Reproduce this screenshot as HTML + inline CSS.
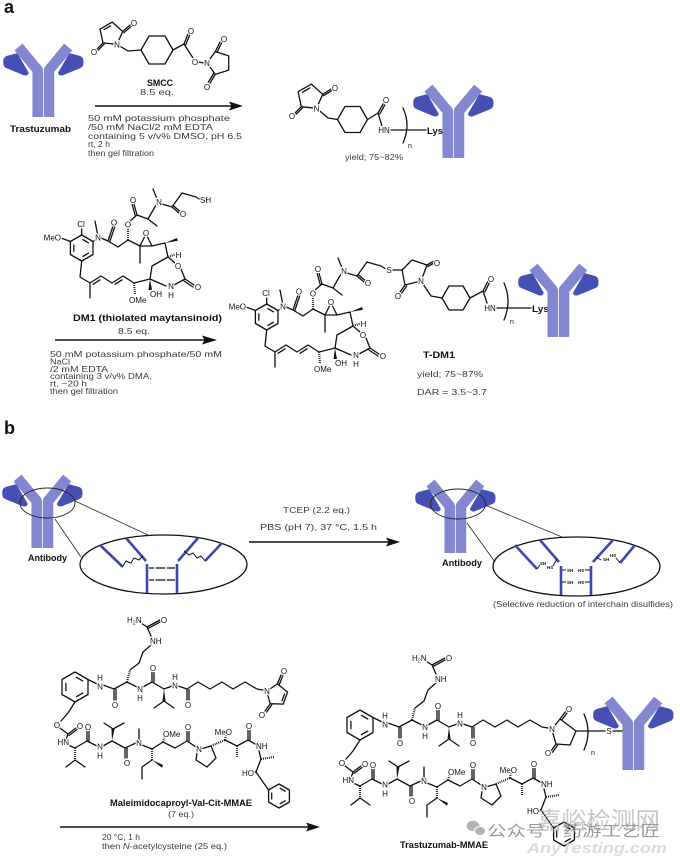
<!DOCTYPE html>
<html><head><meta charset="utf-8">
<style>
html,body{margin:0;padding:0;background:#fff;}
svg{display:block}
text{font-family:"Liberation Sans","Noto Sans CJK SC",sans-serif;}
.bd{fill:none;stroke:#111;stroke-width:1.3;stroke-linecap:round;stroke-linejoin:round}
.hs{fill:none;stroke:#111;stroke-width:2.2;stroke-dasharray:0.9 1.1}
.at{font-size:8px;fill:#111;text-anchor:middle;paint-order:stroke;stroke:#fff;stroke-width:2.4px;stroke-linejoin:round}
.as{text-anchor:start}
.ae{text-anchor:end}
.cd{font-size:8.5px;fill:#3a3a3a}
.lb{font-size:9px;font-weight:bold;fill:#111}
.hc{fill:none;stroke:#8387d0;stroke-width:10.5;stroke-linejoin:round;stroke-linecap:butt}
.lc{fill:#4650b4;stroke:#4650b4;stroke-width:1.5;stroke-linejoin:round}
.bl{fill:none;stroke:#3b48b0;stroke-width:2.6}
.ar{stroke:#111;stroke-width:1.5;fill:none}
</style></head><body>
<svg width="680" height="861" viewBox="0 0 680 861" xmlns="http://www.w3.org/2000/svg">
<rect width="680" height="861" fill="#fff"/>

<!-- ===== Section a ===== -->
<text x="4" y="13" font-size="18" font-weight="bold" fill="#111">a</text>

<!-- Antibody 1 -->
<g transform="translate(3,42)">
<path class="lc" d="M1,19 Q1,15.5 4.5,14.5 L14,12 L25,31 Q24,33.5 21,32.5 L4,25.5 Q1,24.5 1,21 Z"/>
<path class="lc" d="M79.7,19 Q79.7,15.5 76.2,14.5 L66.7,12 L55.7,31 Q56.7,33.5 59.7,32.5 L76.7,25.5 Q79.7,24.5 79.7,21 Z"/>
<path class="hc" d="M15.5,5 L34.7,28 L34.7,75"/><path class="hc" d="M65.2,5 L46,28 L46,75"/>
</g>
<text class="lb" x="10" y="132" textLength="61" lengthAdjust="spacingAndGlyphs">Trastuzumab</text>

<!-- SMCC -->
<g class="bd">
<polygon points="117,44.4 103,42.9 100,29.1 112.3,22.1 122.7,31.5"/>
<path d="M104,29.6L110.6,25.9 M122.7,31.5L130,25 M123.8,32.8L131.1,26.3 M103,42.9L97,49 M104.2,44.1L98.2,50.2 M117,44.4L128,51L141,50"/>
<polygon points="141,50 149,36 165,36 173,50 165,64 149,64"/>
<path d="M173,50L184,44 M184,44L188,34 M185.8,44.7L189.8,34.7 M184,44L193,58 M198,62L204,63"/>
<polygon points="207,63 215.3,51.6 228.7,55.9 228.7,70.1 215.3,74.4"/>
<path d="M215.3,51.6L220,42 M217,52.4L221.7,42.8 M215.3,74.4L210,83 M213.6,73.5L208.3,82.1"/>
</g>
<text class="at" x="117" y="47.4">N</text>
<text class="at" x="134" y="26">O</text>
<text class="at" x="94" y="55">O</text>
<text class="at" x="191" y="34">O</text>
<text class="at" x="195" y="65">O</text>
<text class="at" x="207" y="66">N</text>
<text class="at" x="224" y="42">O</text>
<text class="at" x="207" y="90">O</text>
<text class="lb" x="147" y="86" textLength="26" lengthAdjust="spacingAndGlyphs">SMCC</text>
<text class="cd" x="140" y="95" textLength="34" lengthAdjust="spacingAndGlyphs">8.5 eq.</text>

<!-- Arrow 1 -->
<line class="ar" x1="95" y1="106" x2="233" y2="106"/>
<polygon points="243,106 229,101.5 231.5,106 229,110.5" fill="#111"/>
<text class="cd" x="88" y="121" textLength="142" lengthAdjust="spacingAndGlyphs">50 mM potassium phosphate</text>
<text class="cd" x="88" y="130" textLength="125" lengthAdjust="spacingAndGlyphs">/50 mM NaCl/2 mM EDTA</text>
<text class="cd" x="88" y="139" textLength="154" lengthAdjust="spacingAndGlyphs">containing 5 v/v% DMSO, pH 6.5</text>
<text class="cd" x="88" y="147" textLength="22" lengthAdjust="spacingAndGlyphs">rt, 2 h</text>
<text class="cd" x="88" y="156" textLength="66" lengthAdjust="spacingAndGlyphs">then gel filtration</text>

<!-- Product 1 -->
<g class="bd">
<polygon points="316.5,108.3 301.3,106.7 298.1,91.7 311.4,84.1 322.7,94.3"/>
<path d="M302.5,92.2L309.8,88 M322.7,94.3L331,89 M323.6,95.7L331.9,90.4 M301.3,106.7L295,113 M302.5,107.9L296.2,114.2 M316.5,108.3L328,118L337.5,119.5"/>
<polygon points="337.5,119.5 345,106.5 360,106.5 367.5,119.5 360,132.5 345,132.5"/>
<path d="M367.5,119.5L378,113 M378,113L383,104 M379.8,113.9L384.8,104.9 M378,113L382,126 M391,130L426,130"/>
<path d="M403,108 Q411,125 403,143"/>
</g>
<text class="at" x="316.5" y="111.3">N</text>
<text class="at" x="335" y="91">O</text>
<text class="at" x="292" y="119">O</text>
<text class="at" x="386" y="103">O</text>
<text class="at" x="384" y="133">HN</text>
<text x="408" y="148" font-size="7" fill="#111">n</text>
<text class="lb" x="427" y="134" textLength="16" lengthAdjust="spacingAndGlyphs">Lys</text>
<text class="cd" x="345" y="160" textLength="58" lengthAdjust="spacingAndGlyphs">yield; 75~82%</text>
<g transform="translate(413,83)">
<path class="lc" d="M1,19 Q1,15.5 4.5,14.5 L14,12 L25,31 Q24,33.5 21,32.5 L4,25.5 Q1,24.5 1,21 Z"/>
<path class="lc" d="M79.7,19 Q79.7,15.5 76.2,14.5 L66.7,12 L55.7,31 Q56.7,33.5 59.7,32.5 L76.7,25.5 Q79.7,24.5 79.7,21 Z"/>
<path class="hc" d="M15.5,5 L34.7,28 L34.7,75"/><path class="hc" d="M65.2,5 L46,28 L46,75"/>
</g>

<!-- DM1 -->
<g>
<g class="bd">
<polygon points="81.7,235 93,241.5 93,254.5 81.7,261 70.4,254.5 70.4,241.5"/>
<polygon points="81.7,238.9 89.6,243.45 89.6,252.55 81.7,257.1 73.8,252.55 73.8,243.45" stroke-dasharray="6.37 11.83" stroke-dashoffset="16.84"/>
<path d="M81.7,235V229 M70.4,241.5L61,238 M93,241.5L97,239 M97.5,234L95,221 M101,238L108,241 M108,241L113,226 M109.8,241.6L114.8,226.6 M108,241L118,247L128,240 M130,221L137,215 M137,215L134,204 M135.2,215.5L132.2,204.5 M137,215L148,219L157,226 M148,219L156,205 M157,199L153,189 M162,204L172,207 M172,207L179,213 M173.2,205.6L180.2,211.6 M172,207L182,193L196,197 M128,240L140,246L152,246 M140,246L145,236 M152,246L147,236 M140,246V263 M152,246L165,243 M165,243L168,257 M168,257L175,263 M181,269L185,279 M185,279L194,285 M184,281L193,287 M185,279L174,285 M166,286L150,279 M150,279L152,266L168,257 M81.7,261L80,277L90,283L101,276L112,283L123,276L134,283L150,279 M90,283V298 M93,284.3L100,279.8 M115,284.3L122,279.8"/>
</g>
<path class="hs" d="M128,240V229 M134,283L135,294 M168,257L175,254.5"/>
<polygon points="165,243 177,238 177.8,240.8" fill="#111"/>
<polygon points="150,279 148.5,290 152,290" fill="#111"/>
<text class="at" x="81" y="227">Cl</text>
<text class="at ae" x="61" y="240.5">MeO</text>
<text class="at" x="98" y="240.5">N</text>
<text class="at" x="114" y="225.5">O</text>
<text class="at" x="128" y="227.5">O</text>
<text class="at" x="133" y="203">O</text>
<text class="at" x="159" y="205">N</text>
<text class="at" x="183" y="217">O</text>
<text class="at" x="146" y="236">O</text>
<text class="at" x="178.5" y="258">H</text>
<text class="at" x="178" y="269">O</text>
<text class="at" x="198" y="290">O</text>
<text class="at" x="171" y="289">N</text>
<text class="at" x="171" y="298">H</text>
<text class="at as" x="129" y="303">OMe</text>
<text class="at as" x="150" y="297">OH</text>
</g>
<g class="bd"><path d="M196,197L200,199.5"/></g>
<text class="at as" x="200" y="203">SH</text>

<text class="lb" x="73" y="321" textLength="149" lengthAdjust="spacingAndGlyphs">DM1 (thiolated maytansinoid)</text>
<text class="cd" x="118" y="334" textLength="32" lengthAdjust="spacingAndGlyphs">8.5 eq.</text>
<line class="ar" x1="55" y1="340" x2="205" y2="340"/>
<polygon points="217,340 202,335.5 204.5,340 202,344.5" fill="#111"/>
<text class="cd" x="50" y="357" textLength="172" lengthAdjust="spacingAndGlyphs">50 mM potassium phosphate/50 mM</text>
<text class="cd" x="50" y="364.4" textLength="20" lengthAdjust="spacingAndGlyphs">NaCl</text>
<text class="cd" x="50" y="371.8" textLength="58" lengthAdjust="spacingAndGlyphs">/2 mM EDTA</text>
<text class="cd" x="50" y="379.2" textLength="102" lengthAdjust="spacingAndGlyphs">containing 3 v/v% DMA,</text>
<text class="cd" x="50" y="386.6" textLength="37" lengthAdjust="spacingAndGlyphs">rt, ~20 h</text>
<text class="cd" x="50" y="394" textLength="68" lengthAdjust="spacingAndGlyphs">then gel filtration</text>

<!-- T-DM1 -->
<g transform="translate(185,69)">
<g class="bd">
<polygon points="81.7,235 93,241.5 93,254.5 81.7,261 70.4,254.5 70.4,241.5"/>
<polygon points="81.7,238.9 89.6,243.45 89.6,252.55 81.7,257.1 73.8,252.55 73.8,243.45" stroke-dasharray="6.37 11.83" stroke-dashoffset="16.84"/>
<path d="M81.7,235V229 M70.4,241.5L61,238 M93,241.5L97,239 M97.5,234L95,221 M101,238L108,241 M108,241L113,226 M109.8,241.6L114.8,226.6 M108,241L118,247L128,240 M130,221L137,215 M137,215L134,204 M135.2,215.5L132.2,204.5 M137,215L148,219L157,226 M148,219L156,205 M157,199L153,189 M162,204L172,207 M172,207L179,213 M173.2,205.6L180.2,211.6 M172,207L182,193L196,197 M128,240L140,246L152,246 M140,246L145,236 M152,246L147,236 M140,246V263 M152,246L165,243 M165,243L168,257 M168,257L175,263 M181,269L185,279 M185,279L194,285 M184,281L193,287 M185,279L174,285 M166,286L150,279 M150,279L152,266L168,257 M81.7,261L80,277L90,283L101,276L112,283L123,276L134,283L150,279 M90,283V298 M93,284.3L100,279.8 M115,284.3L122,279.8"/>
</g>
<path class="hs" d="M128,240V229 M134,283L135,294 M168,257L175,254.5"/>
<polygon points="165,243 177,238 177.8,240.8" fill="#111"/>
<polygon points="150,279 148.5,290 152,290" fill="#111"/>
<text class="at" x="81" y="227">Cl</text>
<text class="at ae" x="61" y="240.5">MeO</text>
<text class="at" x="98" y="240.5">N</text>
<text class="at" x="114" y="225.5">O</text>
<text class="at" x="128" y="227.5">O</text>
<text class="at" x="133" y="203">O</text>
<text class="at" x="159" y="205">N</text>
<text class="at" x="183" y="217">O</text>
<text class="at" x="146" y="236">O</text>
<text class="at" x="178.5" y="258">H</text>
<text class="at" x="178" y="269">O</text>
<text class="at" x="198" y="290">O</text>
<text class="at" x="171" y="289">N</text>
<text class="at" x="171" y="298">H</text>
<text class="at as" x="129" y="303">OMe</text>
<text class="at as" x="150" y="297">OH</text>
</g>
<g class="bd">
<path d="M381,266L385,268.5 M393,270L402,270"/>
<polygon points="402,270 412,260 427,265 421,281 405,285"/>
<path d="M427,265L434,261 M427.8,266.6L434.8,262.6 M405,285L400,292 M406.6,286.2L401.6,293.2 M421,281L431,296L442,298"/>
<polygon points="442,298 449,286 463,286 470,298 463,310 449,310"/>
<path d="M470,298L483,291 M483,291L488,281 M484.8,291.9L489.8,281.9 M483,291L487,303 M497,308L531,308"/>
<path d="M504,283 Q512,301 504,320"/>
</g>
<text class="at" x="389" y="273">S</text>
<text class="at" x="437" y="266">O</text>
<text class="at" x="398" y="299">O</text>
<text class="at" x="421" y="284">N</text>
<text class="at" x="491" y="282">O</text>
<text class="at" x="490" y="311">HN</text>
<text x="510" y="324" font-size="7" fill="#111">n</text>
<text class="lb" x="532" y="312" textLength="17" lengthAdjust="spacingAndGlyphs">Lys</text>
<g transform="translate(518,262)">
<path class="lc" d="M1,19 Q1,15.5 4.5,14.5 L14,12 L25,31 Q24,33.5 21,32.5 L4,25.5 Q1,24.5 1,21 Z"/>
<path class="lc" d="M79.7,19 Q79.7,15.5 76.2,14.5 L66.7,12 L55.7,31 Q56.7,33.5 59.7,32.5 L76.7,25.5 Q79.7,24.5 79.7,21 Z"/>
<path class="hc" d="M15.5,5 L34.7,28 L34.7,75"/><path class="hc" d="M65.2,5 L46,28 L46,75"/>
</g>
<text class="lb" x="423" y="358" textLength="32" lengthAdjust="spacingAndGlyphs">T-DM1</text>
<text class="cd" x="417" y="377" font-size="9" textLength="66" lengthAdjust="spacingAndGlyphs">yield; 75~87%</text>
<text class="cd" x="417" y="395" font-size="9" textLength="70" lengthAdjust="spacingAndGlyphs">DAR = 3.5~3.7</text>

<!-- ===== Section b ===== -->
<text x="4" y="434" font-size="18" font-weight="bold" fill="#111">b</text>

<g transform="translate(2,473)">
<path class="lc" d="M1,19 Q1,15.5 4.5,14.5 L14,12 L25,31 Q24,33.5 21,32.5 L4,25.5 Q1,24.5 1,21 Z"/>
<path class="lc" d="M79.7,19 Q79.7,15.5 76.2,14.5 L66.7,12 L55.7,31 Q56.7,33.5 59.7,32.5 L76.7,25.5 Q79.7,24.5 79.7,21 Z"/>
<path class="hc" d="M15.5,5 L34.7,28 L34.7,75"/><path class="hc" d="M65.2,5 L46,28 L46,75"/>
</g>
<ellipse cx="47.5" cy="503" rx="27.5" ry="15" fill="none" stroke="#222" stroke-width="0.9"/>
<path d="M75,501L148,535 M55,519L81,557" stroke="#333" stroke-width="0.9" fill="none"/>
<ellipse cx="163.5" cy="564.5" rx="83.5" ry="29.5" fill="none" stroke="#111" stroke-width="1.3"/>
<path class="bl" d="M100,545L123,567 M126,538L146,561 M147,564V593 M198,538L178,561 M177,564V593 M222,543L205,561"/>
<path d="M123,566L126,561L131,563L134,558L139,560L143,556 M205,561L201,556L197,558L193,553L189,555L184,551" stroke="#111" stroke-width="1" fill="none"/>
<path d="M149,568H175 M149,580H175" stroke="#111" stroke-width="1.3" stroke-dasharray="5 1.5 10 1.5 8" fill="none"/>
<text class="lb" x="28" y="561" font-size="8.5" textLength="39" lengthAdjust="spacingAndGlyphs">Antibody</text>

<text class="cd" x="283" y="513" font-size="9" textLength="67" lengthAdjust="spacingAndGlyphs">TCEP (2.2 eq.)</text>
<text class="cd" x="260" y="530" font-size="9" textLength="117" lengthAdjust="spacingAndGlyphs">PBS (pH 7), 37 °C, 1.5 h</text>
<line class="ar" x1="249" y1="542" x2="389" y2="542"/>
<polygon points="400,542 386,537.5 388.5,542 386,546.5" fill="#111"/>

<g transform="translate(415,478)">
<path class="lc" d="M1,19 Q1,15.5 4.5,14.5 L14,12 L25,31 Q24,33.5 21,32.5 L4,25.5 Q1,24.5 1,21 Z"/>
<path class="lc" d="M79.7,19 Q79.7,15.5 76.2,14.5 L66.7,12 L55.7,31 Q56.7,33.5 59.7,32.5 L76.7,25.5 Q79.7,24.5 79.7,21 Z"/>
<path class="hc" d="M15.5,5 L34.7,28 L34.7,75"/><path class="hc" d="M65.2,5 L46,28 L46,75"/>
</g>
<ellipse cx="458" cy="504" rx="27.5" ry="15" fill="none" stroke="#222" stroke-width="0.9"/>
<path d="M485,505L562,537 M467,523L495,562" stroke="#333" stroke-width="0.9" fill="none"/>
<ellipse cx="576.5" cy="566.5" rx="83.5" ry="29.5" fill="none" stroke="#111" stroke-width="1.3"/>
<path class="bl" d="M515,545L537,569 M540,540L559,562 M561,566V595 M613,540L593,562 M591,566V595 M635,545L620,563"/>
<path d="M537,569L540,565 M553,566L557,559 M562,570H566 M585,570H590 M562,582H566 M585,582H590 M620,563L616,558 M601,560L596,557" stroke="#111" stroke-width="1" fill="none"/>
<g font-size="4.5" font-weight="bold" fill="#111">
<text x="540" y="565">SH</text><text x="547" y="569">HS</text>
<text x="567" y="572">SH</text><text x="578" y="572">HS</text>
<text x="567" y="584">SH</text><text x="578" y="584">HS</text>
<text x="610" y="557">HS</text><text x="603" y="561">SH</text>
</g>
<text class="lb" x="442" y="566" font-size="8.5" textLength="40" lengthAdjust="spacingAndGlyphs">Antibody</text>
<text class="cd" x="493" y="607" textLength="180" lengthAdjust="spacingAndGlyphs">(Selective reduction of interchain disulfides)</text>

<!-- MMAE reagent -->
<g>
<g class="bd">
<path d="M141,623L147,627 M147,627L160,620 M147.9,628.6L160.9,621.6 M147,627L151,636 M151,645L143,652L139,663L130,670"/>
<polygon points="75,672 88,679.5 88,694.5 75,702 62,694.5 62,679.5"/>
<polygon points="75,676.5 84.1,681.75 84.1,692.25 75,697.5 65.9,692.25 65.9,681.75" stroke-dasharray="7.35 13.65" stroke-dashoffset="19.43"/>
<path d="M88,679.5L97,684 M103,685L114,689 M114,689V700 M116,689.5V700 M114,689L127,682 M127,682L137,687 M143,687L152,682 M152,682V672 M154,682V672 M152,682L164,689 M164,701L154,708 M164,701L174,708 M164,689L172,686 M178,686L187,689 M187,689V700 M189,689.5V700 M187,689L198,682L210,689L222,682L233,689L245,682L257,689L263,690"/>
<path d="M75,702L68,713L61,721 M60,728L68,734 M68,734L76,728 M69,735.5L77,729.5 M68,734L66,740 M68,745L75,748 M75,760L66,767 M75,760L85,767 M75,748L87,741 M87,741V731 M89,741V731 M87,741L97,746 M103,746L112,741 M113,729L104,723 M113,729L124,723 M112,741L125,748 M125,748V758 M127,748V758 M125,748L136,743 M139,740V729 M142,745L152,749 M152,760L142,767V779 M152,749L163,742 M163,742L175,748L187,741 M187,741V731 M189,741V731 M187,741L196,747 M211,746L216,758L207,767L196,760L197,753 M201,749L211,746 M225,740L237,746 M237,746L248,740 M248,740V730 M250,740V730 M248,740L257,745 M259,751L261,759 M261,759L256,772 M256,772L268.6,790"/>
<polygon points="279,784 289.4,790 289.4,802 279,808 268.6,802 268.6,790"/>
<polygon points="279,787.6 286.3,791.8 286.3,800.2 279,804.4 271.7,800.2 271.7,791.8" stroke-dasharray="5.88 10.92" stroke-dashoffset="15.54"/>
</g>
<path class="hs" d="M127,682L130,670 M75,748V760 M152,749V760 M163,742L165,736 M211,746L225,740 M225,740L226,733 M237,746V758 M261,759L274,757 M256,772L253,773"/>
<polygon fill="#111" points="164,689 162.5,701 165.5,701"/>
<polygon fill="#111" points="112,741 111.5,729 114.5,729"/>
<polygon fill="#111" points="152,760 163,765 162,767.8"/>
<text class="at as" x="127" y="623">H<tspan font-size="5.5" dy="1.5">2</tspan><tspan dy="-1.5">N</tspan></text>
<text class="at" x="164" y="623">O</text>
<text class="at as" x="150" y="644">NH</text>
<text class="at" x="100" y="689.5">N</text><text class="at" x="100" y="680.5">H</text>
<text class="at" x="115" y="708">O</text>
<text class="at" x="140" y="692">N</text><text class="at" x="140" y="701">H</text>
<text class="at" x="153" y="671">O</text>
<text class="at" x="175" y="688.5">N</text><text class="at" x="175" y="680">H</text>
<text class="at" x="188" y="708">O</text>
<text class="at" x="57" y="728">O</text>
<text class="at" x="80" y="729">O</text>
<text class="at ae" x="69" y="745">HN</text>
<text class="at" x="88" y="730">O</text>
<text class="at" x="100" y="749.5">N</text><text class="at" x="100" y="758.5">H</text>
<text class="at" x="127" y="766">O</text>
<text class="at" x="139" y="746">N</text>
<text class="at as" x="163" y="737">OMe</text>
<text class="at" x="188" y="730">O</text>
<text class="at" x="199" y="752">N</text>
<text class="at ae" x="232" y="735">MeO</text>
<text class="at" x="249" y="729">O</text>
<text class="at as" x="256" y="749">NH</text>
<text class="at ae" x="254" y="776">HO</text>
</g>
<g class="bd">
<polygon points="266.7,691.2 277.4,684 287.6,692 283.2,704.1 270.2,703.7"/>
<path d="M284.5,694L282.1,700.6 M277.4,684L281,675 M279.2,684.7L282.8,675.7 M270.2,703.7L265,711 M271.8,704.8L266.6,712.1"/>
</g>
<text class="at" x="267" y="694">N</text>
<text class="at" x="284" y="674">O</text>
<text class="at" x="262" y="718">O</text>

<text class="lb" x="110" y="806" font-size="8.5" textLength="142" lengthAdjust="spacingAndGlyphs">Maleimidocaproyl-Val-Cit-MMAE</text>
<text class="cd" x="168" y="817" textLength="26" lengthAdjust="spacingAndGlyphs">(7 eq.)</text>
<line class="ar" x1="60" y1="827" x2="309" y2="827"/>
<polygon points="320,827 306,822.5 308.5,827 306,831.5" fill="#111"/>
<text class="cd" x="102" y="840" textLength="38" lengthAdjust="spacingAndGlyphs">20 °C, 1 h</text>
<text class="cd" x="102" y="849" textLength="125" lengthAdjust="spacingAndGlyphs">then <tspan font-style="italic">N</tspan>-acetylcysteine (25 eq.)</text>

<!-- Product MMAE -->
<g transform="translate(285,38)">
<g class="bd">
<path d="M141,623L147,627 M147,627L160,620 M147.9,628.6L160.9,621.6 M147,627L151,636 M151,645L143,652L139,663L130,670"/>
<polygon points="75,672 88,679.5 88,694.5 75,702 62,694.5 62,679.5"/>
<polygon points="75,676.5 84.1,681.75 84.1,692.25 75,697.5 65.9,692.25 65.9,681.75" stroke-dasharray="7.35 13.65" stroke-dashoffset="19.43"/>
<path d="M88,679.5L97,684 M103,685L114,689 M114,689V700 M116,689.5V700 M114,689L127,682 M127,682L137,687 M143,687L152,682 M152,682V672 M154,682V672 M152,682L164,689 M164,701L154,708 M164,701L174,708 M164,689L172,686 M178,686L187,689 M187,689V700 M189,689.5V700 M187,689L198,682L210,689L222,682L233,689L245,682L257,689L263,690"/>
<path d="M75,702L68,713L61,721 M60,728L68,734 M68,734L76,728 M69,735.5L77,729.5 M68,734L66,740 M68,745L75,748 M75,760L66,767 M75,760L85,767 M75,748L87,741 M87,741V731 M89,741V731 M87,741L97,746 M103,746L112,741 M113,729L104,723 M113,729L124,723 M112,741L125,748 M125,748V758 M127,748V758 M125,748L136,743 M139,740V729 M142,745L152,749 M152,760L142,767V779 M152,749L163,742 M163,742L175,748L187,741 M187,741V731 M189,741V731 M187,741L196,747 M211,746L216,758L207,767L196,760L197,753 M201,749L211,746 M225,740L237,746 M237,746L248,740 M248,740V730 M250,740V730 M248,740L257,745 M259,751L261,759 M261,759L256,772 M256,772L268.6,790"/>
<polygon points="279,784 289.4,790 289.4,802 279,808 268.6,802 268.6,790"/>
<polygon points="279,787.6 286.3,791.8 286.3,800.2 279,804.4 271.7,800.2 271.7,791.8" stroke-dasharray="5.88 10.92" stroke-dashoffset="15.54"/>
</g>
<path class="hs" d="M127,682L130,670 M75,748V760 M152,749V760 M163,742L165,736 M211,746L225,740 M225,740L226,733 M237,746V758 M261,759L274,757 M256,772L253,773"/>
<polygon fill="#111" points="164,689 162.5,701 165.5,701"/>
<polygon fill="#111" points="112,741 111.5,729 114.5,729"/>
<polygon fill="#111" points="152,760 163,765 162,767.8"/>
<text class="at as" x="127" y="623">H<tspan font-size="5.5" dy="1.5">2</tspan><tspan dy="-1.5">N</tspan></text>
<text class="at" x="164" y="623">O</text>
<text class="at as" x="150" y="644">NH</text>
<text class="at" x="100" y="689.5">N</text><text class="at" x="100" y="680.5">H</text>
<text class="at" x="115" y="708">O</text>
<text class="at" x="140" y="692">N</text><text class="at" x="140" y="701">H</text>
<text class="at" x="153" y="671">O</text>
<text class="at" x="175" y="688.5">N</text><text class="at" x="175" y="680">H</text>
<text class="at" x="188" y="708">O</text>
<text class="at" x="57" y="728">O</text>
<text class="at" x="80" y="729">O</text>
<text class="at ae" x="69" y="745">HN</text>
<text class="at" x="88" y="730">O</text>
<text class="at" x="100" y="749.5">N</text><text class="at" x="100" y="758.5">H</text>
<text class="at" x="127" y="766">O</text>
<text class="at" x="139" y="746">N</text>
<text class="at as" x="163" y="737">OMe</text>
<text class="at" x="188" y="730">O</text>
<text class="at" x="199" y="752">N</text>
<text class="at ae" x="232" y="735">MeO</text>
<text class="at" x="249" y="729">O</text>
<text class="at as" x="256" y="749">NH</text>
<text class="at ae" x="254" y="776">HO</text>
</g>
<g class="bd">
<polygon points="551.7,729.2 560,719 576,731 570,745 556,744"/>
<path d="M560,719L566,711 M561.7,720.1L567.7,712.1 M556,744L551,751 M557.6,745.2L552.6,752.2 M576,731H605 M613,731H625"/>
<path d="M584,714 Q592,732 584,750"/>
</g>
<text class="at" x="552" y="732.2">N</text>
<text class="at" x="569" y="712">O</text>
<text class="at" x="548" y="756">O</text>
<text class="at" x="609" y="734">S</text>
<text x="591" y="755" font-size="7" fill="#111">n</text>
<g transform="translate(593,695)">
<path class="lc" d="M1,19 Q1,15.5 4.5,14.5 L14,12 L25,31 Q24,33.5 21,32.5 L4,25.5 Q1,24.5 1,21 Z"/>
<path class="lc" d="M79.7,19 Q79.7,15.5 76.2,14.5 L66.7,12 L55.7,31 Q56.7,33.5 59.7,32.5 L76.7,25.5 Q79.7,24.5 79.7,21 Z"/>
<path class="hc" d="M15.5,5 L34.7,28 L34.7,75"/><path class="hc" d="M65.2,5 L46,28 L46,75"/>
</g>
<text class="lb" x="400" y="848" font-size="8.5" textLength="88" lengthAdjust="spacingAndGlyphs">Trastuzumab-MMAE</text>

<!-- Watermark -->
<g opacity="0.75">
<ellipse cx="473" cy="826" rx="6.5" ry="5.2" fill="#9a9a9a"/>
<ellipse cx="480" cy="831" rx="5.5" ry="4.5" fill="#9a9a9a" stroke="#fff" stroke-width="1"/>
<text x="537" y="829" font-size="24" fill="#b5b5b5" font-family="Noto Sans CJK SC, sans-serif" textLength="123" lengthAdjust="spacingAndGlyphs">嘉峪检测网</text>
<text x="487" y="836" font-size="15" fill="#777" font-family="Noto Sans CJK SC, sans-serif" textLength="173" lengthAdjust="spacingAndGlyphs">公众号 · 药游工艺匠</text>
<text x="527" y="853" font-size="15" font-style="italic" font-weight="bold" fill="#cfcfcf" textLength="140" lengthAdjust="spacingAndGlyphs">AnyTesting.com</text>
</g>
</svg>
</body></html>
